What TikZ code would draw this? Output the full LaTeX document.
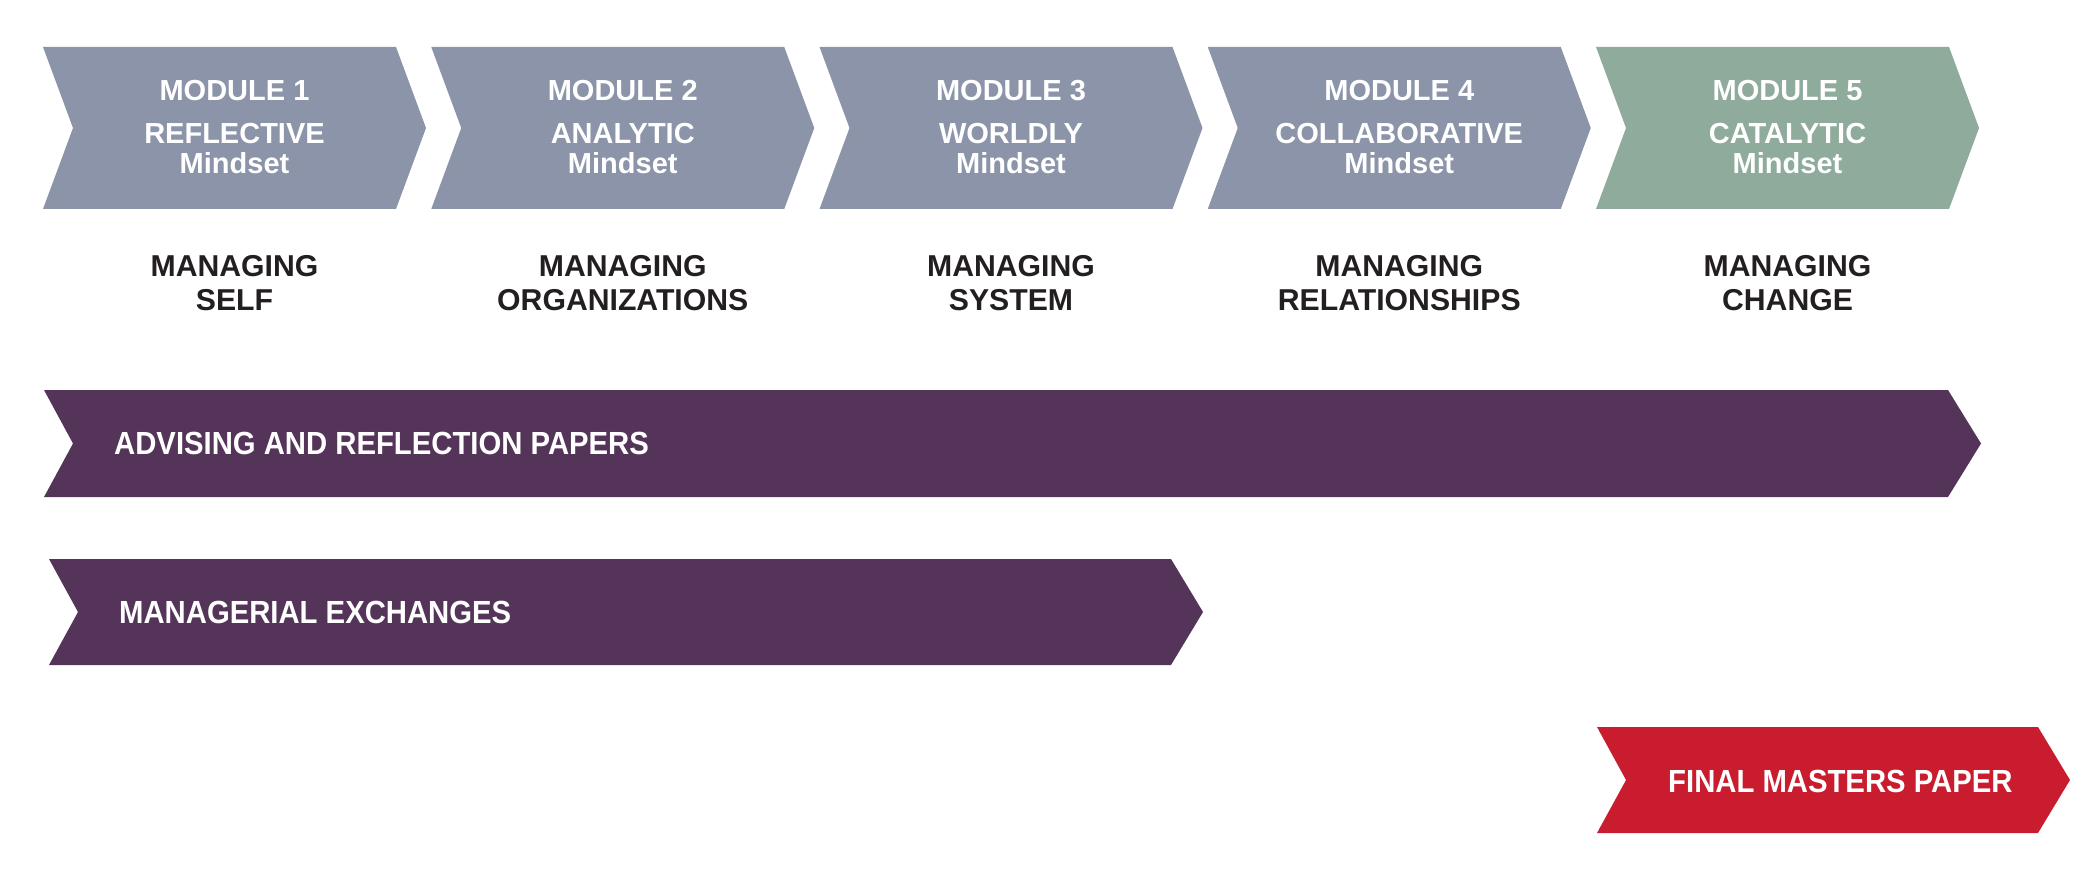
\documentclass[tikz,border=0pt]{standalone}
\usepackage{fontspec}
\setmainfont{Liberation Sans}
\newfontfamily\bandfont[FakeStretch=0.915]{Liberation Sans}
\definecolor{modgray}{HTML}{8B94A8}
\definecolor{modgreen}{HTML}{8EAB9C}
\definecolor{bandpurple}{HTML}{55345A}
\definecolor{finalred}{HTML}{C91C2E}
\definecolor{labelblack}{HTML}{231F20}
% chevron: left, top, body width, height, notch depth, tip depth, colour
\newcommand{\chevshape}[7]{%
  \fill[#7] (#1,#2) -- ({#1+#3},#2) -- ({#1+#3+#6},{#2+#4/2}) -- ({#1+#3},{#2+#4})
    -- (#1,{#2+#4}) -- ({#1+#5},{#2+#4/2}) -- cycle;}
\begin{document}
\begin{tikzpicture}[x=1pt,y=-1pt,
  modtxt/.style={text=white,font=\fontsize{29}{34}\selectfont\bfseries,inner sep=0pt,anchor=base},
  lbltxt/.style={text=labelblack,font=\fontsize{30.2}{34}\selectfont\bfseries,inner sep=0pt,anchor=base},
  bandtxt/.style={text=white,font=\bandfont\fontsize{32}{36}\selectfont\bfseries,inner sep=0pt,anchor=base west}]
\useasboundingbox (0,0) rectangle (2100,885);
\fill[white] (0,0) rectangle (2100,885);
% modules
\foreach \i/\t/\b/\c in {1/REFLECTIVE/SELF/modgray,2/ANALYTIC/ORGANIZATIONS/modgray,3/WORLDLY/SYSTEM/modgray,4/COLLABORATIVE/RELATIONSHIPS/modgray,5/CATALYTIC/CHANGE/modgreen}{
  \pgfmathsetmacro\L{43+388.25*(\i-1)}
  \chevshape{\L}{47}{353}{162}{30}{30}{\c}
  \node[modtxt] (modA\i) at ({\L+191.5},100.7) {MODULE \i};
  \node[modtxt] (modB\i) at ({\L+191.5},144) {\t};
  \node[modtxt] (modC\i) at ({\L+191.5},174) {Mindset};
  \node[lbltxt] (lblA\i) at ({\L+191.5},276.7) {MANAGING};
  \node[lbltxt] (lblB\i) at ({\L+191.5},310.7) {\b};
}
% bands
\chevshape{44}{390}{1904}{107}{29}{33}{bandpurple}
\node[bandtxt] (advising) at (114,454.5) {ADVISING AND REFLECTION PAPERS};
\chevshape{49}{559}{1122}{106}{29}{32}{bandpurple}
\node[bandtxt] (exchanges) at (119,623.5) {MANAGERIAL EXCHANGES};
\chevshape{1597}{727}{441}{106}{29}{32}{finalred}
\node[bandtxt] (final) at (1668,792) {FINAL MASTERS PAPER};
\end{tikzpicture}
\end{document}
